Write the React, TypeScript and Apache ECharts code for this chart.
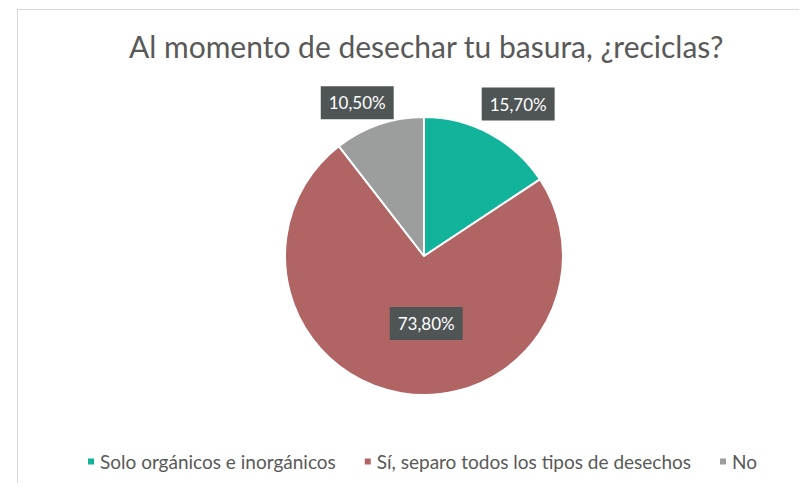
import React, { useEffect, useRef } from "react";
import * as echarts from "echarts";

const titleText = "Al momento de desechar tu basura, ¿reciclas?";
const categories = [
  "Solo orgánicos e inorgánicos",
  "Sí, separo todos los tipos de desechos",
  "No",
];
const values = [15.7, 73.8, 10.5];
const colors = ["#12b39b", "#b06464", "#9c9e9e"];

const labelShift = [
  { dx: -15, dy: -26 },
  { dx: 14, dy: -4 },
  { dx: 21, dy: -18 },
];

export default function App() {
  const ref = useRef<HTMLDivElement>(null);
  useEffect(() => {
    if (!ref.current) return;
    const chart = echarts.init(ref.current, null, { renderer: "svg" });
    const font = "Lato, sans-serif";
    chart.setOption({
      animation: false,
      title: {
        text: titleText,
        left: 116,
        top: 18,
        textStyle: { fontFamily: font, fontSize: 30, fontWeight: "normal", color: "#595959" },
      },
      legend: {
        bottom: 7,
        left: 73,
        itemWidth: 8,
        itemHeight: 8,
        itemGap: 27,
        icon: "rect",
        textStyle: { fontFamily: font, fontSize: 19, color: "#595959" },
        data: categories,
      },
      series: [
        {
          type: "pie",
          center: [416, 248],
          radius: [0, 139],
          startAngle: 90,
          clockwise: true,
          itemStyle: { borderColor: "#ffffff", borderWidth: 2 },
          labelLine: { show: false, length: 4, length2: 0 },
          label: {
            show: true,
            formatter: (p: any) => p.value.toFixed(2).replace(".", ",") + "%",
            fontFamily: font,
            fontSize: 17,
            color: "#ffffff",
            backgroundColor: "#4f5555",
            padding: [8, 8, 8, 8],
          },
          labelLayout: (p: any) => labelShift[p.dataIndex],
          data: values.map((v, i) => ({
            name: categories[i],
            value: v,
            itemStyle: { color: colors[i] },
            label: { position: i === 1 ? "inside" : "outside" },
          })),
        },
      ],
    });
    return () => chart.dispose();
  }, []);
  return (
    <div style={{ position: "relative", width: 791, height: 475, background: "#ffffff" }}>
      <div ref={ref} style={{ position: "absolute", left: 0, top: 0, width: 791, height: 475 }} />
      <div
        style={{
          position: "absolute",
          left: 9,
          top: 1,
          width: 795,
          height: 490,
          borderLeft: "1px solid #d9d9d9",
          borderTop: "1px solid #d9d9d9",
          boxSizing: "border-box",
          pointerEvents: "none",
        }}
      />
    </div>
  );
}
